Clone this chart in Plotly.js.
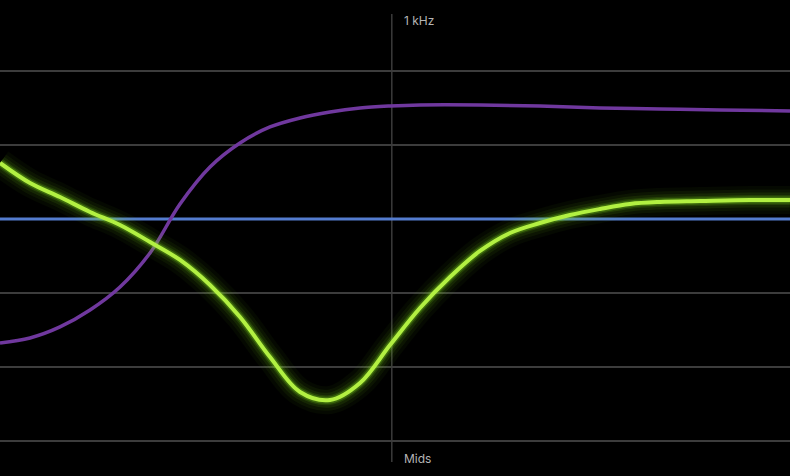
<!DOCTYPE html>
<html><head><meta charset="utf-8">
<script src="https://cdn.plot.ly/plotly-3.0.1.min.js"></script>
<style>html,body{margin:0;padding:0;background:#000;}#chart{width:790px;height:476px;}</style>
</head><body><div id="chart"></div>
<script>
// Frequencies in Hz (log axis), gains in grid units
const greenFreq = [32.51,42.27,54.93,71.42,92.83,120.7,156.9,203.9,265.1,344.6,448.0,582.4,757.0,984.0,1279,1663,2161,2810,3653,4749,6173,8025,10430,14800,22920,32510];
const greenGain = [0.757,0.486,0.297,0.095,-0.081,-0.311,-0.554,-0.892,-1.324,-1.865,-2.338,-2.446,-2.216,-1.703,-1.203,-0.784,-0.432,-0.189,-0.054,0.054,0.135,0.203,0.230,0.243,0.257,0.257];
const purpleFreq = [32.51,42.27,54.93,71.42,92.83,120.7,156.9,203.9,265.1,344.6,448.0,582.4,757.0,984.0,1279,2161,3653,6173,10430,17630,32510];
const purpleGain = [-1.676,-1.608,-1.459,-1.230,-0.919,-0.459,0.203,0.703,1.027,1.243,1.365,1.446,1.500,1.527,1.541,1.541,1.527,1.500,1.486,1.473,1.459];
const blueFreq = [32.51,32510];
const blueGain = [0,0];
const markerFreq = 1000;
const topLabel = "1 kHz";
const bottomLabel = "Mids";

const sp = {shape:'spline',smoothing:1,simplify:false};
const traces = [
  {x:blueFreq,y:blueGain,mode:'lines',line:{color:'rgb(84,124,206)',width:3},hoverinfo:'skip'},
  {x:purpleFreq,y:purpleGain,mode:'lines',line:Object.assign({color:'rgb(112,56,158)',width:3.5},sp),hoverinfo:'skip'}
];
const glow = [[28,0.04],[21,0.06],[15,0.09],[10,0.14],[7,0.28]];
glow.forEach(g=>traces.push({x:greenFreq,y:greenGain,mode:'lines',line:Object.assign({color:'rgba(130,220,30,'+g[1]+')',width:g[0]},sp),hoverinfo:'skip'}));
traces.push({x:greenFreq,y:greenGain,mode:'lines',line:Object.assign({color:'rgb(178,240,66)',width:4},sp),hoverinfo:'skip'});

const layout = {
  width:790,height:476,margin:{l:0,r:0,t:0,b:0},
  paper_bgcolor:'#000',plot_bgcolor:'#000',showlegend:false,
  xaxis:{type:'log',range:[1.512,4.512],showgrid:false,zeroline:false,showticklabels:false,ticks:'',showline:false},
  yaxis:{range:[-3.473,2.959],dtick:1,tick0:0,showgrid:true,gridcolor:'#3c3c3c',gridwidth:1.5,zeroline:false,showticklabels:false,ticks:'',showline:false},
  shapes:[{type:'line',xref:'x',yref:'paper',x0:markerFreq,x1:markerFreq,y0:1-462/476,y1:1-14/476,line:{color:'#4a4a4a',width:1.2},layer:'below'}],
  annotations:[
    {text:topLabel,xref:'paper',yref:'paper',x:402/790,y:1-21/476,xanchor:'left',yanchor:'middle',showarrow:false,font:{family:'Inter, Roboto, sans-serif',size:12,color:'#b4b4b4'}},
    {text:bottomLabel,xref:'paper',yref:'paper',x:402/790,y:1-458/476,xanchor:'left',yanchor:'middle',showarrow:false,font:{family:'Inter, Roboto, sans-serif',size:12,color:'#b4b4b4'}}
  ]
};
Plotly.newPlot('chart',traces,layout,{staticPlot:true,displayModeBar:false});
</script></body></html>
